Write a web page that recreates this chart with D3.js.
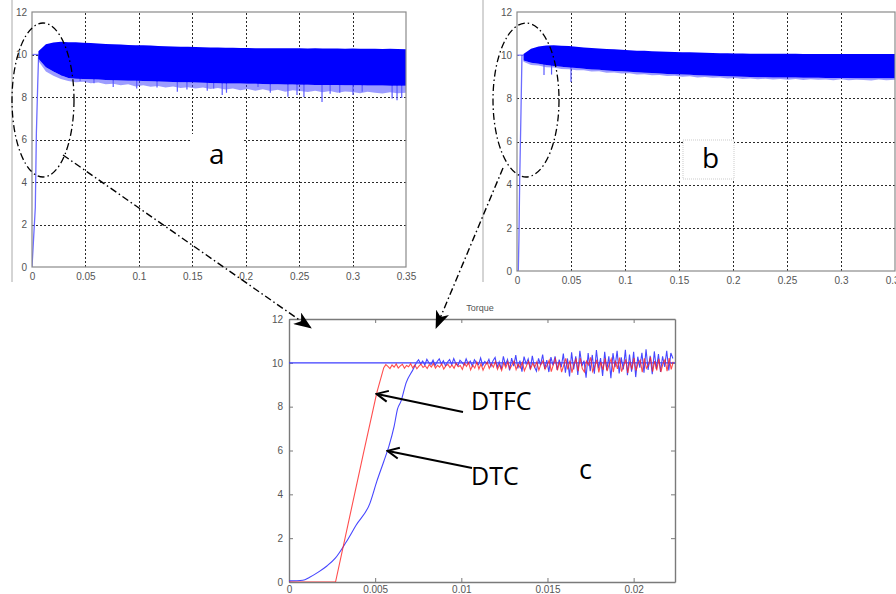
<!DOCTYPE html>
<html><head><meta charset="utf-8">
<script src="https://cdn.jsdelivr.net/npm/d3@7"></script>
<style>
html,body{margin:0;padding:0;background:#fff;}
svg{display:block;}
.tk text{font-family:"Liberation Sans",Arial,sans-serif;font-size:10px;fill:#555;}
.lbl{font-family:"Open Sans",sans-serif;fill:#000;}
</style></head>
<body>
<svg id="c" width="896" height="594"></svg>
<script>
// ---------------- DATA ----------------
const yTicks = [0, 2, 4, 6, 8, 10, 12];
const abXTicks = [0, 0.05, 0.1, 0.15, 0.2, 0.25, 0.3, 0.35];
const cXTicks = [0, 0.005, 0.01, 0.015, 0.02];

// sample times of the band envelopes (panels a and b)
const bandT = [0.006,0.013,0.020,0.027,0.034,0.041,0.048,0.055,0.062,0.069,0.076,0.083,0.090,0.097,0.104,0.111,0.118,0.125,0.132,0.139,0.146,0.153,0.160,0.167,0.174,0.181,0.188,0.195,0.202,0.209,0.216,0.223,0.230,0.237,0.244,0.251,0.258,0.265,0.272,0.279,0.286,0.293,0.300,0.307,0.314,0.321,0.328,0.335,0.342,0.350];

// panel a (DTC) torque band: upper envelope, dense lower edge, sparse lower fringe
const aUpper = [10.15,10.48,10.56,10.6,10.58,10.58,10.55,10.54,10.52,10.5,10.48,10.47,10.45,10.44,10.43,10.42,10.4,10.39,10.38,10.37,10.36,10.35,10.34,10.33,10.33,10.32,10.32,10.31,10.31,10.3,10.3,10.3,10.29,10.3,10.29,10.29,10.28,10.29,10.28,10.28,10.28,10.27,10.28,10.27,10.27,10.27,10.26,10.27,10.26,10.25];
const aLower = [9.8,9.4,9.2,9.02,8.9,8.86,8.85,8.83,8.82,8.8,8.79,8.78,8.77,8.76,8.75,8.74,8.73,8.72,8.71,8.7,8.69,8.68,8.67,8.66,8.65,8.64,8.64,8.63,8.62,8.62,8.61,8.6,8.6,8.59,8.59,8.58,8.58,8.57,8.57,8.56,8.56,8.55,8.55,8.55,8.54,8.54,8.54,8.53,8.53,8.53];
const aFringe = [9.7,9.2,9.0,8.85,8.75,8.7,8.72,8.65,8.68,8.6,8.62,8.55,8.6,8.5,8.55,8.48,8.52,8.45,8.5,8.42,8.46,8.4,8.45,8.38,8.42,8.35,8.4,8.32,8.38,8.3,8.36,8.28,8.34,8.25,8.32,8.28,8.24,8.3,8.22,8.28,8.2,8.26,8.24,8.18,8.25,8.2,8.16,8.22,8.18,8.2];
const aSpikeT = [0.019,0.028,0.045,0.058,0.076,0.098,0.117,0.136,0.145,0.164,0.17,0.178,0.182,0.2115,0.223,0.2395,0.248,0.2545,0.2714,0.279,0.288,0.3004,0.309,0.337,0.3416,0.346];
const aSpikeV = [9.3,9.0,8.75,8.65,8.47,8.4,8.45,8.25,8.35,8.3,8.4,8.09,8.2,8.47,8.2,8.01,8.1,8.0,7.77,8.15,8.2,8.1,8.25,7.93,7.85,7.95];
const aRiseT = [0, 0.0031, 0.0041, 0.0053, 0.0062];
const aRiseV = [0, 2.8, 6.3, 8.5, 10];

// panel b (DTFC) torque band
const bUpper = [10.05,10.3,10.4,10.45,10.46,10.44,10.42,10.39,10.36,10.33,10.31,10.29,10.27,10.25,10.23,10.21,10.2,10.18,10.17,10.16,10.15,10.14,10.13,10.12,10.11,10.1,10.09,10.09,10.08,10.08,10.07,10.07,10.07,10.06,10.06,10.06,10.06,10.05,10.05,10.05,10.05,10.05,10.05,10.05,10.05,10.05,10.05,10.05,10.05,10.05];
const bLower = [9.75,9.65,9.6,9.54,9.5,9.46,9.43,9.4,9.37,9.34,9.32,9.29,9.27,9.25,9.23,9.21,9.19,9.17,9.15,9.13,9.12,9.1,9.09,9.07,9.06,9.05,9.04,9.02,9.01,9.0,8.99,8.98,8.98,8.97,8.97,8.96,8.96,8.95,8.95,8.95,8.94,8.94,8.94,8.94,8.93,8.93,8.93,8.93,8.93,8.93];
const bFringe = [9.7,9.55,9.52,9.44,9.43,9.36,9.35,9.3,9.3,9.24,9.25,9.19,9.2,9.15,9.16,9.11,9.12,9.07,9.08,9.03,9.05,9.0,9.02,8.97,8.99,8.95,8.97,8.92,8.94,8.9,8.92,8.88,8.91,8.87,8.9,8.86,8.89,8.85,8.88,8.86,8.87,8.84,8.88,8.84,8.86,8.85,8.83,8.87,8.84,8.86];
const bSpikeT = [0.025, 0.032, 0.05];
const bSpikeV = [9.08, 9.1, 8.76];
const bRiseT = [0, 0.0012, 0.0018, 0.0025, 0.0037, 0.0046];
const bRiseV = [0, 0, 1.5, 4.2, 7.4, 10];

// panel c zoom: reference, DTC (blue) and DTFC (red)
const cRefT = [0, 0.0224];
const cRefV = [10, 10];
const dtcRiseT = [0,0.0008,0.0012,0.0017,0.0022,0.0027,0.0033,0.0039,0.0047,0.0051,0.0055,0.0058,0.0061,0.0063,0.0065,0.0068,0.0072,0.0074];
const dtcRiseV = [0.05,0.08,0.22,0.45,0.73,1.1,1.8,2.6,3.6,4.6,5.5,6.2,7.1,7.9,8.25,9.1,9.7,10.02];
const dtfcRiseT = [0, 0.0027, 0.0043, 0.0051, 0.0055];
const dtfcRiseV = [0, 0, 5.8, 8.65, 9.78];
const noiseStep = 0.00012;
const dtfcNoiseStart = 0.0055;
const dtfcNoise = [
 9.78,9.92,9.84,9.74,9.9,9.8,9.95,9.76,9.86,9.93,
 9.75,9.88,9.82,9.96,9.77,9.9,9.73,9.85,9.94,9.79,
 9.87,9.74,9.92,9.81,9.97,9.76,9.89,9.8,9.95,9.72,
 9.86,9.93,9.78,9.9,9.75,9.98,9.82,9.88,
 9.7,9.98,9.84,10.02,9.68,9.9,9.76,10.04,9.72,9.95,
 9.66,9.88,10.03,9.74,9.96,9.8,10.06,9.7,9.92,9.65,
 10.0,9.78,10.05,9.73,9.9,10.08,9.69,9.94,9.77,10.02,
 9.64,9.86,10.07,9.72,9.98,9.8,10.04,9.67,9.93,10.1,
 9.71,9.9,
 10.12,9.6,9.92,10.18,9.66,10.05,9.58,9.88,10.2,9.7,
 10.1,9.55,9.96,10.16,9.62,10.22,9.74,9.58,10.08,9.9,
 10.25,9.6,9.82,10.14,9.56,10.04,9.68,10.2,9.62,9.94,
 10.18,9.58,10.1,9.72,10.24,9.6,9.86,10.16,9.54,10.06,
 9.7,10.22,9.64,9.98,10.12,9.57,10.2,9.75,9.9,10.26,
 9.6,10.08,9.66,10.18,9.58,9.96,10.14,9.62,10.22,9.7,
 10.05];
const dtcNoiseStart = 0.0074;
const dtcNoise = [
 10.02,10.14,9.95,10.08,9.9,10.16,10.0,9.93,10.12,9.88,
 10.06,10.18,9.94,10.1,9.86,10.04,10.15,9.92,10.2,9.97,
 9.87,10.12,10.02,9.9,10.18,9.95,10.08,9.85,10.14,10.0,
 9.92,10.22,9.88,10.06,9.96,10.16,9.84,10.1,
 10.25,9.8,10.05,9.7,10.3,9.9,10.15,9.65,10.22,9.85,
 10.35,9.75,10.1,9.6,10.28,9.95,10.18,9.7,10.32,9.82,
 9.62,10.2,9.9,10.38,9.72,10.12,9.58,10.26,9.88,10.3,
 9.68,10.15,9.8,
 10.42,9.55,10.2,9.38,10.48,9.7,10.3,9.45,10.55,9.85,
 10.1,9.32,10.45,9.62,10.36,9.5,10.58,9.75,10.22,9.4,
 10.5,9.66,10.3,9.3,10.44,9.8,10.55,9.52,10.25,9.7,
 10.6,9.44,10.38,9.6,10.5,9.35,10.28,9.78,10.46,9.55,
 10.62,9.68,10.32,9.48,10.52,9.72,10.4,9.58,10.3,9.82,
 10.55,9.65,10.45,10.2];

// ---------------- DRAW ----------------
const svg = d3.select("#c");
const defs = svg.append("defs");
const fmt = d => d === 0 ? "0" : String(+d.toFixed(4));

defs.append("marker").attr("id","ddArrow").attr("markerUnits","userSpaceOnUse")
  .attr("viewBox","0 0 18 14").attr("refX",17).attr("refY",7)
  .attr("markerWidth",18).attr("markerHeight",14).attr("orient","auto")
  .append("path").attr("d","M0,0 L18,7 L0,14 L5,7 Z").attr("fill","#000");
defs.append("marker").attr("id","openArrow").attr("markerUnits","userSpaceOnUse")
  .attr("viewBox","0 0 14 14").attr("refX",12).attr("refY",7)
  .attr("markerWidth",14).attr("markerHeight",14).attr("orient","auto")
  .append("path").attr("d","M1,1.5 L12.5,7 L1,12.5").attr("fill","none").attr("stroke","#000").attr("stroke-width",2);

function clip(id, x0, y0, x1, y1) {
  defs.append("clipPath").attr("id", id).append("rect")
    .attr("x", x0).attr("y", y0).attr("width", x1 - x0).attr("height", y1 - y0);
}

function bandPanel(x, y, upper, lower, fringe, spT, spV, riseT, riseV, id) {
  const [x0, x1] = x.range(), [y0, y1] = y.range();
  const g = svg.append("g");
  clip(id, x0, y1, x1, y0);
  // grid
  const gridStyle = s => s.selectAll("line").attr("stroke", "#2a2a2a").attr("stroke-dasharray", "2,2")
    .attr("stroke-width", 1).attr("shape-rendering", "crispEdges");
  g.append("g").attr("transform", `translate(0,${y0})`)
    .call(d3.axisBottom(x).tickValues(abXTicks.slice(1, -1)).tickSize(-(y0 - y1)).tickFormat(""))
    .call(s => s.select(".domain").remove()).call(gridStyle);
  g.append("g").attr("transform", `translate(${x0},0)`)
    .call(d3.axisLeft(y).tickValues(yTicks.slice(1, -1)).tickSize(-(x1 - x0)).tickFormat(""))
    .call(s => s.select(".domain").remove()).call(gridStyle);
  // tick labels
  g.append("g").attr("class", "tk").attr("transform", `translate(${x0},0)`)
    .call(d3.axisLeft(y).tickValues(yTicks).tickSize(0).tickPadding(5).tickFormat(fmt))
    .call(s => s.select(".domain").remove());
  g.append("g").attr("class", "tk").attr("transform", `translate(0,${y0})`)
    .call(d3.axisBottom(x).tickValues(abXTicks).tickSize(0).tickPadding(6).tickFormat(fmt))
    .call(s => s.select(".domain").remove());
  const p = g.append("g").attr("clip-path", `url(#${id})`);
  // reference at 10 and rise
  p.append("path").attr("d", d3.line()([[x(0), y(10)], [x(bandT[0]), y(10)]]))
    .attr("stroke", "#7a7aff").attr("stroke-width", 1.3).attr("fill", "none");
  p.append("path").attr("d", d3.line().x((d, i) => x(riseT[i])).y(d => y(d))(riseV))
    .attr("stroke", "#6c6cff").attr("stroke-width", 1.3).attr("fill", "none");
  p.append("path").attr("d", d3.area().x((d, i) => x(bandT[i])).y0(d => y(d)).y1((d, i) => y(lower[i]))(fringe))
    .attr("fill", "#3a3aff").attr("opacity", 0.5);
  // spikes
  p.selectAll(".sp").data(spV).join("line")
    .attr("x1", (d, i) => x(spT[i])).attr("x2", (d, i) => x(spT[i]))
    .attr("y1", (d, i) => y(d + 0.9)).attr("y2", d => y(d))
    .attr("stroke", "#5a5aff").attr("stroke-width", 1.2);
  p.append("path").attr("d", d3.area().x((d, i) => x(bandT[i])).y0((d, i) => y(lower[i])).y1(d => y(d))(upper))
    .attr("fill", "#0000ff");
  // frame
  g.append("rect").attr("x", x0).attr("y", y1).attr("width", x1 - x0).attr("height", y0 - y1)
    .attr("fill", "none").attr("stroke", "#8a8a8a").attr("stroke-width", 1.2);
  return g;
}

// image edges
svg.append("line").attr("x1", 12).attr("x2", 12).attr("y1", 0).attr("y2", 282).attr("stroke", "#aaa");
svg.append("line").attr("x1", 483).attr("x2", 483).attr("y1", 0).attr("y2", 282).attr("stroke", "#aaa");

const xa = d3.scaleLinear().domain([0, 0.35]).range([32, 406]);
const ya = d3.scaleLinear().domain([0, 12]).range([267, 12]);
bandPanel(xa, ya, aUpper, aLower, aFringe, aSpikeT, aSpikeV, aRiseT, aRiseV, "clipA");

const xb = d3.scaleLinear().domain([0, 0.35]).range([517, 895]);
const yb = d3.scaleLinear().domain([0, 12]).range([271, 12]);
bandPanel(xb, yb, bUpper, bLower, bFringe, bSpikeT, bSpikeV, bRiseT, bRiseV, "clipB");

// labels a, b
svg.append("rect").attr("x", 192).attr("y", 134).attr("width", 52).attr("height", 46).attr("fill", "#fff");
svg.append("text").attr("class", "lbl").attr("x", 209).attr("y", 164).attr("font-size", 28).text("a");
svg.append("rect").attr("x", 683).attr("y", 140).attr("width", 51).attr("height", 39).attr("fill", "#fff")
  .attr("stroke", "#aaa").attr("stroke-width", 0.6).attr("stroke-dasharray", "1,1");
svg.append("text").attr("class", "lbl").attr("x", 702).attr("y", 168).attr("font-size", 28).text("b");

// panel c
const xc = d3.scaleLinear().domain([0, 0.0224]).range([289, 675]);
const yc = d3.scaleLinear().domain([0, 12]).range([582, 319]);
clip("clipC", 289, 319, 675, 582);
const gc = svg.append("g");
const axStyle = s => { s.select(".domain").attr("stroke", "#7a7a7a").attr("stroke-width", 1.4); s.selectAll("line").attr("stroke", "#7a7a7a"); };
gc.append("g").attr("class", "tk").attr("transform", "translate(0,582)")
  .call(d3.axisBottom(xc).tickValues(cXTicks).tickSizeInner(-4).tickSizeOuter(0).tickPadding(4).tickFormat(fmt)).call(axStyle);
gc.append("g").attr("transform", "translate(0,319)")
  .call(d3.axisTop(xc).tickValues(cXTicks).tickSizeInner(-4).tickSizeOuter(0).tickFormat("")).call(axStyle);
gc.append("g").attr("class", "tk").attr("transform", "translate(289,0)")
  .call(d3.axisLeft(yc).tickValues(yTicks).tickSizeInner(-4).tickSizeOuter(0).tickPadding(6).tickFormat(fmt)).call(axStyle);
gc.append("g").attr("transform", "translate(675,0)")
  .call(d3.axisRight(yc).tickValues(yTicks).tickSizeInner(-4).tickSizeOuter(0).tickFormat("")).call(axStyle);
gc.append("text").attr("x", 480).attr("y", 311).attr("text-anchor", "middle")
  .attr("font-family", "Liberation Sans, Arial, sans-serif").attr("font-size", 9).attr("fill", "#555").text("Torque");

const pc = gc.append("g").attr("clip-path", "url(#clipC)");
const lineXY = (T, V, curve) => d3.line().curve(curve || d3.curveLinear).x((d, i) => xc(T[i])).y(d => yc(d))(V);
pc.append("path").attr("d", lineXY(cRefT, cRefV)).attr("stroke", "#3c3cff").attr("stroke-width", 1.3).attr("fill", "none");
const dtcT = dtcNoise.map((d, i) => dtcNoiseStart + i * noiseStep);
const dtfcT = dtfcNoise.map((d, i) => dtfcNoiseStart + i * noiseStep);
pc.append("path").attr("d", lineXY(dtcRiseT, dtcRiseV, d3.curveMonotoneX))
  .attr("stroke", "#4646ff").attr("stroke-width", 1.1).attr("fill", "none");
pc.append("path").attr("d", lineXY(dtcT, dtcNoise))
  .attr("stroke", "#4646ff").attr("stroke-width", 1.1).attr("fill", "none");
pc.append("path").attr("d", lineXY(dtfcRiseT.concat(dtfcT), dtfcRiseV.concat(dtfcNoise)))
  .attr("stroke", "#ff2020").attr("stroke-width", 1.1).attr("fill", "none").attr("opacity", 0.8);

// DTFC / DTC annotations
svg.append("line").attr("x1", 463).attr("y1", 412).attr("x2", 377).attr("y2", 394)
  .attr("stroke", "#000").attr("stroke-width", 2).attr("marker-end", "url(#openArrow)");
svg.append("line").attr("x1", 472).attr("y1", 468).attr("x2", 388).attr("y2", 451)
  .attr("stroke", "#000").attr("stroke-width", 2).attr("marker-end", "url(#openArrow)");
svg.append("text").attr("class", "lbl").attr("x", 471).attr("y", 410).attr("font-size", 25).text("DTFC");
svg.append("text").attr("class", "lbl").attr("x", 471).attr("y", 485).attr("font-size", 25).text("DTC");
svg.append("text").attr("class", "lbl").attr("x", 579).attr("y", 479).attr("font-size", 27).text("c");

// dash-dot ellipses and connectors
const dd = "7,3,1.5,3";
svg.append("ellipse").attr("cx", 43).attr("cy", 100).attr("rx", 31).attr("ry", 77)
  .attr("fill", "none").attr("stroke", "#000").attr("stroke-width", 1.3).attr("stroke-dasharray", dd);
svg.append("ellipse").attr("cx", 526).attr("cy", 100).attr("rx", 33).attr("ry", 77)
  .attr("fill", "none").attr("stroke", "#000").attr("stroke-width", 1.3).attr("stroke-dasharray", dd);
svg.append("line").attr("x1", 63).attr("y1", 155).attr("x2", 311).attr("y2", 328)
  .attr("stroke", "#000").attr("stroke-width", 1.4).attr("stroke-dasharray", dd).attr("marker-end", "url(#ddArrow)");
svg.append("line").attr("x1", 503).attr("y1", 168).attr("x2", 436).attr("y2", 328)
  .attr("stroke", "#000").attr("stroke-width", 1.4).attr("stroke-dasharray", dd).attr("marker-end", "url(#ddArrow)");
</script>
</body></html>
